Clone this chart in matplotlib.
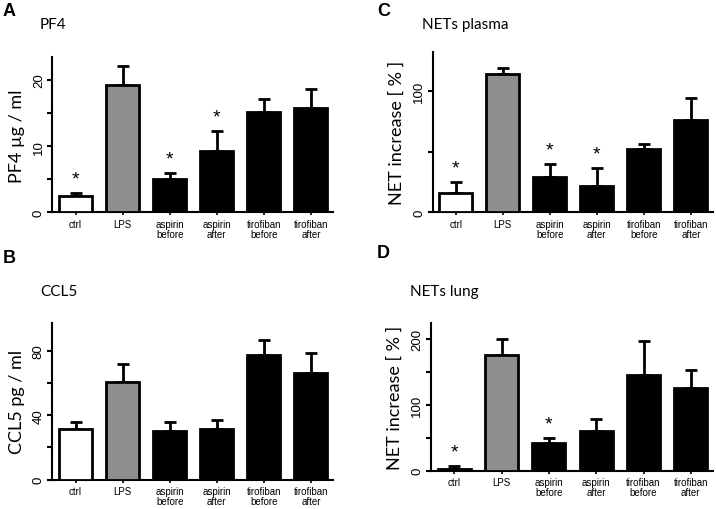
import matplotlib.pyplot as plt
import numpy as np

groups = ["ctrl", "LPS", "aspirin\nbefore", "aspirin\nafter", "tirofiban\nbefore", "tirofiban\nafter"]
colors = ["white", "#8e8e8e", "black", "black", "black", "black"]

pf4 = [2.4, 19.2, 5.0, 9.3, 15.2, 15.7]
pf4_err = [0.5, 2.9, 1.0, 3.0, 1.9, 2.9]
pf4_stars = [0, 2, 3]

ccl5 = [31.3, 60.8, 30.4, 31.4, 77.3, 66.4]
ccl5_err = [4.7, 10.8, 5.4, 5.4, 9.5, 12.4]
ccl5_stars = []

nets_plasma = [16.0, 113.7, 28.9, 21.5, 51.7, 76.0]
nets_plasma_err = [8.8, 5.3, 11.0, 14.9, 4.2, 17.6]
nets_plasma_stars = [0, 2, 3]

nets_lung = [2.5, 175.8, 42.5, 60.8, 145.4, 125.2]
nets_lung_err = [5.1, 24.2, 6.7, 17.8, 50.6, 27.8]
nets_lung_stars = [0, 2]

title_font = "Lato"
tick_font = "Liberation Sans"

fig = plt.figure(figsize=(7.16, 5.10), dpi=100)


def panel(rect, vals, errs, stars, ymax, major, minor, ylabel, title, letter,
          title_xy, letter_xy):
    ax = fig.add_axes(rect)
    x = np.arange(len(vals))
    ax.bar(x, vals, width=0.7, color=colors, edgecolor="black", linewidth=2.0, zorder=3)
    ax.errorbar(x, vals, yerr=[np.zeros(len(errs)), errs], fmt="none", ecolor="black",
                elinewidth=2.0, capsize=4.6, capthick=2.0, zorder=2)
    for i in stars:
        ax.annotate("*", xy=(x[i], vals[i] + errs[i]), xytext=(0, 10),
                    textcoords="offset points", ha="center", va="center",
                    fontsize=14, family=tick_font)
    ax.set_xlim(-0.49, 5.47)
    ax.set_ylim(0, ymax)
    ax.set_xticks(x)
    ax.set_xticklabels(groups, fontsize=7, family=tick_font, linespacing=1.0)
    ax.set_yticks(np.arange(0, ymax, minor))
    ax.set_yticklabels([str(int(v)) if v % major == 0 else "" for v in np.arange(0, ymax, minor)],
                       fontsize=9.5, family=tick_font, rotation=90, va="center")
    ax.tick_params(axis="both", length=3.5, width=1.5, direction="out", pad=2)
    ax.tick_params(axis="x", length=2.5, width=1.2)
    for s in ["top", "right"]:
        ax.spines[s].set_visible(False)
    for s in ["left", "bottom"]:
        ax.spines[s].set_linewidth(1.5)
    ax.set_ylabel(ylabel, fontsize=13, family=title_font, labelpad=6)
    fig.text(title_xy[0] / 716, 1 - title_xy[1] / 510, title, fontsize=11,
             family=title_font, va="center", ha="left")
    fig.text(letter_xy[0] / 716, 1 - letter_xy[1] / 510, letter, fontsize=13,
             family=tick_font, fontweight="bold", va="center", ha="left")
    return ax


panel([0.0733, 0.5817, 0.3918, 0.3039], pf4, pf4_err, pf4_stars, 23.4, 10, 5,
      "PF4 µg / ml", "PF4", "A", (40, 25), (3, 11))
panel([0.0733, 0.0575, 0.3918, 0.3073], ccl5, ccl5_err, ccl5_stars, 97.2, 40, 20,
      "CCL5 pg / ml", "CCL5", "B", (40, 292), (3, 259))
panel([0.6043, 0.5817, 0.3915, 0.3149], nets_plasma, nets_plasma_err, nets_plasma_stars,
      132, 100, 50, "NET increase [ % ]", "NETs plasma", "C", (422, 25), (377, 11))
panel([0.602, 0.0751, 0.3939, 0.2896], nets_lung, nets_lung_err, nets_lung_stars,
      224, 100, 50, "NET increase [ % ]", "NETs lung", "D", (410, 292), (377, 254))

fig.savefig("out.png", dpi=100)
